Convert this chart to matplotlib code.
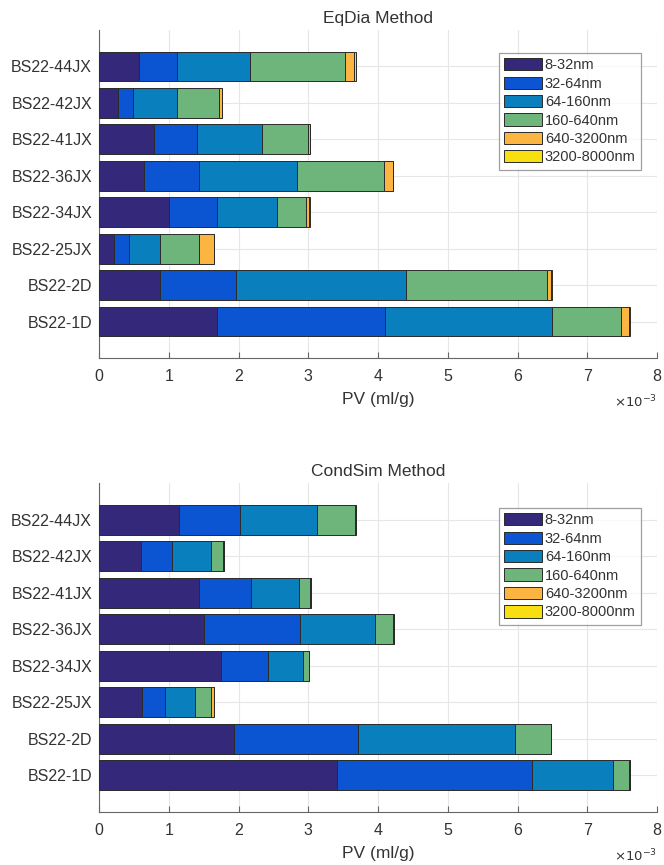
import matplotlib
matplotlib.use("Agg")
import matplotlib.pyplot as plt
import numpy as np

plt.rcParams["font.family"] = ["Liberation Sans", "DejaVu Sans"]

samples = ["BS22-1D", "BS22-2D", "BS22-25JX", "BS22-34JX",
           "BS22-36JX", "BS22-41JX", "BS22-42JX", "BS22-44JX"]
bins = ["8-32nm", "32-64nm", "64-160nm", "160-640nm", "640-3200nm", "3200-8000nm"]
colors = ["#33287a", "#0b55d2", "#0a7fbd", "#6db57a", "#fbb540", "#f7df10"]

# pore volume per size bin, units of 1e-3 ml/g
eqdia_8_32 = [1.69, 0.88, 0.22, 1.01, 0.65, 0.79, 0.27, 0.57]
eqdia_32_64 = [2.41, 1.08, 0.21, 0.68, 0.79, 0.61, 0.22, 0.55]
eqdia_64_160 = [2.40, 2.44, 0.45, 0.86, 1.40, 0.93, 0.63, 1.04]
eqdia_160_640 = [0.98, 2.03, 0.56, 0.42, 1.25, 0.66, 0.60, 1.36]
eqdia_640_3200 = [0.12, 0.05, 0.21, 0.04, 0.12, 0.03, 0.04, 0.14]
eqdia_3200_8000 = [0.02, 0.01, 0.005, 0.01, 0.01, 0.01, 0.01, 0.02]

cond_8_32 = [3.41, 1.94, 0.61, 1.75, 1.50, 1.43, 0.60, 1.15]
cond_32_64 = [2.80, 1.78, 0.33, 0.67, 1.38, 0.75, 0.45, 0.87]
cond_64_160 = [1.16, 2.25, 0.43, 0.50, 1.08, 0.69, 0.56, 1.11]
cond_160_640 = [0.23, 0.51, 0.24, 0.09, 0.26, 0.16, 0.17, 0.54]
cond_640_3200 = [0.01, 0.005, 0.04, 0.005, 0.005, 0.005, 0.005, 0.01]
cond_3200_8000 = [0, 0, 0, 0, 0, 0, 0, 0]

eqdia = [eqdia_8_32, eqdia_32_64, eqdia_64_160, eqdia_160_640,
         eqdia_640_3200, eqdia_3200_8000]
cond = [cond_8_32, cond_32_64, cond_64_160, cond_160_640,
        cond_640_3200, cond_3200_8000]

W, H = 664, 865
fig = plt.figure(figsize=(W / 100, H / 100), dpi=100)

txt = "#333333"


def draw(ax, series, title, top_frac):
    y = np.arange(1, len(samples) + 1)
    left = np.zeros(len(samples))
    for vals, lab, col in zip(series, bins, colors):
        v = np.array(vals)
        ax.barh(y, v, height=0.82, left=left, color=col, edgecolor="#2a2a2a",
                linewidth=0.7, label=lab, zorder=3)
        left += v
    ax.set_xlim(0, 8)
    ax.set_ylim(0.0, 9.0)
    ax.set_yticks(y)
    ax.set_yticklabels(samples)
    ax.set_xticks(range(9))
    ax.grid(True, color="#e6e6e6", linewidth=0.8, zorder=0)
    ax.set_axisbelow(True)
    for s in ["top", "right"]:
        ax.spines[s].set_visible(False)
    for s in ["left", "bottom"]:
        ax.spines[s].set_color("#666666")
        ax.spines[s].set_linewidth(0.8)
    ax.tick_params(axis="x", direction="in", length=4, pad=8, labelsize=11.5,
                   colors="#666666", labelcolor=txt)
    ax.tick_params(axis="y", direction="in", length=0, pad=5, labelsize=11.5,
                   labelcolor=txt)
    ax.set_xlabel("PV (ml/g)", fontsize=12.5, color=txt, labelpad=6)
    ax.set_title(title, fontsize=12.5, color=txt, pad=5)
    ax.text(1.0, -0.135, r"$\times10^{-3}$", transform=ax.transAxes,
            ha="right", va="center", fontsize=9.5, color=txt)
    leg = ax.legend(loc="upper right", bbox_to_anchor=(0.971, top_frac),
                    fontsize=10.5, frameon=True, fancybox=False,
                    handlelength=2.6, handleheight=0.9, handletextpad=0.2,
                    labelspacing=0.3, borderpad=0.35, borderaxespad=0)
    leg.get_frame().set_edgecolor("#888888")
    leg.get_frame().set_linewidth(0.9)
    for t in leg.get_texts():
        t.set_color(txt)


ax1 = fig.add_axes([99 / W, 1 - 358 / H, 558 / W, 328 / H])
draw(ax1, eqdia, "EqDia Method", 0.930)

ax2 = fig.add_axes([99 / W, 1 - 812 / H, 558 / W, 329 / H])
draw(ax2, cond, "CondSim Method", 0.924)

fig.savefig("out.png", dpi=100)
